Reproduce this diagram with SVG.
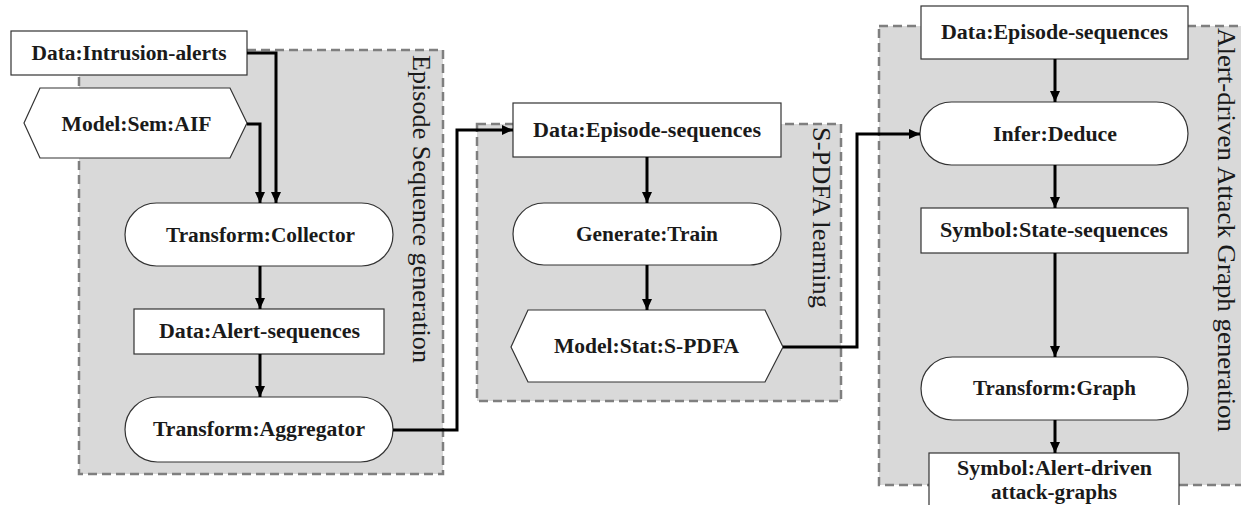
<svg xmlns="http://www.w3.org/2000/svg" width="1241" height="505" viewBox="0 0 1241 505">
<defs>
<marker id="ah" markerUnits="userSpaceOnUse" markerWidth="12" markerHeight="12" viewBox="0 0 12 12" refX="11" refY="6" orient="auto">
<path d="M0,1 L11,6 L0,11 Z" fill="#000"/>
</marker>
</defs>
<style>
.grp{fill:#d9d9d9;stroke:#7f7f7f;stroke-width:2.5;stroke-dasharray:9 5}
.nd{fill:#fff;stroke:#333;stroke-width:1.2}
.t{font-family:"Liberation Serif",serif;font-weight:bold;font-size:20px;fill:#1a1a1a;text-anchor:middle}
.gl{font-family:"Liberation Serif",serif;font-size:26px;fill:#1a1a1a}
.c{fill:none;stroke:#000;stroke-width:3;marker-end:url(#ah)}
</style>
<g id="groups">
<rect class="grp" x="79" y="50" width="364" height="424"/>
<rect class="grp" x="477" y="124" width="364" height="277"/>
<rect class="grp" x="879" y="26" width="380" height="459"/>
<text class="gl" transform="translate(413,55) rotate(90)" textLength="308" lengthAdjust="spacingAndGlyphs">Episode Sequence generation</text>
<text class="gl" transform="translate(813,127) rotate(90)" textLength="181" lengthAdjust="spacingAndGlyphs">S-PDFA learning</text>
<text class="gl" transform="translate(1218,28) rotate(90)" textLength="404" lengthAdjust="spacingAndGlyphs">Alert-driven Attack Graph generation</text>
</g>
<g id="n-intrusion"><rect class="nd" x="11" y="31" width="236" height="44"/><text class="t" x="129" y="59.5" textLength="195" lengthAdjust="spacingAndGlyphs">Data:Intrusion-alerts</text></g>
<g id="n-aif"><polygon class="nd" points="24,123 40,88 230,88 247,123 230,158 40,158"/><text class="t" x="136.5" y="130.5" textLength="150" lengthAdjust="spacingAndGlyphs">Model:Sem:AIF</text></g>
<g id="n-collector"><rect class="nd" x="125" y="203" width="268" height="63" rx="31.5" ry="31.5"/><text class="t" x="260.5" y="241.5" textLength="189" lengthAdjust="spacingAndGlyphs">Transform:Collector</text></g>
<g id="n-alertseq"><rect class="nd" x="134" y="309" width="250" height="45"/><text class="t" x="259.5" y="338" textLength="201" lengthAdjust="spacingAndGlyphs">Data:Alert-sequences</text></g>
<g id="n-aggregator"><rect class="nd" x="125" y="397" width="268" height="65" rx="32.5" ry="32.5"/><text class="t" x="259" y="436" textLength="212" lengthAdjust="spacingAndGlyphs">Transform:Aggregator</text></g>
<g id="n-episode1"><rect class="nd" x="513" y="103" width="268" height="54"/><text class="t" x="647" y="136.5" textLength="228" lengthAdjust="spacingAndGlyphs">Data:Episode-sequences</text></g>
<g id="n-train"><rect class="nd" x="513" y="203" width="268" height="62" rx="31" ry="31"/><text class="t" x="647" y="240.5" textLength="142" lengthAdjust="spacingAndGlyphs">Generate:Train</text></g>
<g id="n-spdfa"><polygon class="nd" points="511,347 528,310 765,310 783,347 765,382 528,382"/><text class="t" x="646.5" y="353" textLength="185" lengthAdjust="spacingAndGlyphs">Model:Stat:S-PDFA</text></g>
<g id="n-episode2"><rect class="nd" x="921" y="6" width="267" height="53"/><text class="t" x="1054.5" y="39" textLength="227" lengthAdjust="spacingAndGlyphs">Data:Episode-sequences</text></g>
<g id="n-deduce"><rect class="nd" x="920" y="102" width="268" height="63" rx="31.5" ry="31.5"/><text class="t" x="1055" y="140.5" textLength="124" lengthAdjust="spacingAndGlyphs">Infer:Deduce</text></g>
<g id="n-state"><rect class="nd" x="921" y="208" width="267" height="45"/><text class="t" x="1054" y="237" textLength="228" lengthAdjust="spacingAndGlyphs">Symbol:State-sequences</text></g>
<g id="n-graph"><rect class="nd" x="921" y="357" width="267" height="63" rx="31.5" ry="31.5"/><text class="t" x="1054.5" y="395" textLength="163" lengthAdjust="spacingAndGlyphs">Transform:Graph</text></g>
<g id="n-attackgraphs"><rect class="nd" x="929" y="453" width="250" height="60"/><text class="t" x="1054.5" y="475" textLength="195" lengthAdjust="spacingAndGlyphs">Symbol:Alert-driven</text><text class="t" x="1054" y="499" textLength="126" lengthAdjust="spacingAndGlyphs">attack-graphs</text></g>
<g id="connectors">
<path class="c" d="M247,53 H276 V203"/>
<path class="c" d="M247,124 H260 V203"/>
<path class="c" d="M260,266 V309"/>
<path class="c" d="M260,354 V397"/>
<path class="c" d="M393,430 H457 V130 H513"/>
<path class="c" d="M647,157 V203"/>
<path class="c" d="M647,265 V310"/>
<path class="c" d="M783,347 H857 V134 H920"/>
<path class="c" d="M1055,59 V102"/>
<path class="c" d="M1055,165 V208"/>
<path class="c" d="M1055,253 V357"/>
<path class="c" d="M1055,420 V453"/>
</g>
</svg>
